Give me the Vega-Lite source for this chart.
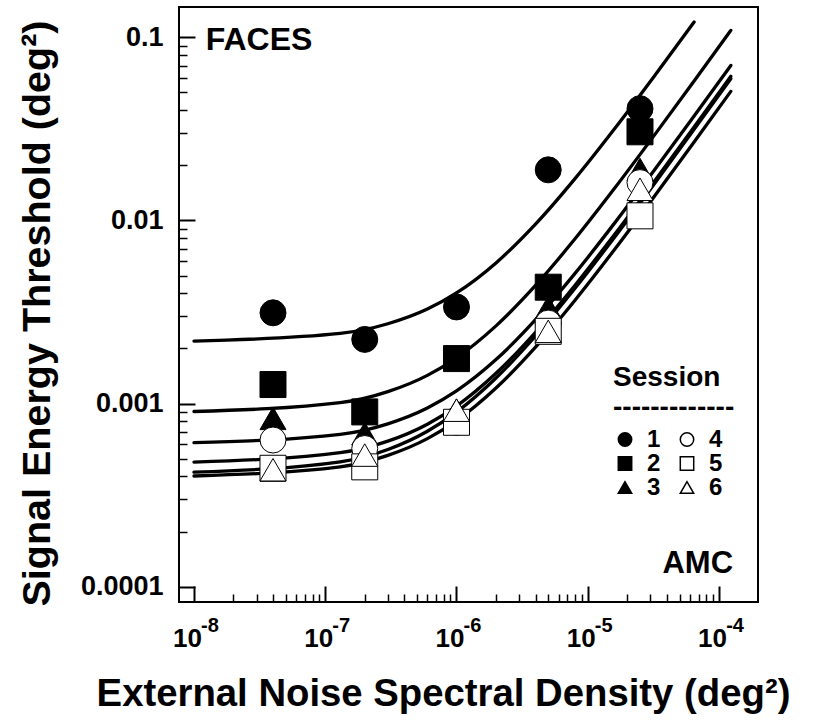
{
  "$schema": "https://vega.github.io/schema/vega-lite/v6.json",
  "width": 579,
  "height": 595,
  "autosize": "none",
  "padding": {"left": 179, "top": 7, "right": 61, "bottom": 123},
  "background": "white",
  "config": {
    "font": "Liberation Sans",
    "view": {"stroke": "black", "strokeWidth": 2},
    "axis": {"grid": false, "domain": false, "labelFont": "Liberation Sans", "titleFont": "Liberation Sans", "labelColor": "black", "titleColor": "black", "tickColor": "black", "labelFlush": false, "labelOverlap": false},
    "legend": {"rowPadding": 0, "columnPadding": 14, "labelOffset": 10, "symbolOffset": 0}
  },
  "datasets": {
    "curves": [
      {"curve": 1, "x": 1e-8, "y": 0.002194}, {"curve": 1, "x": 1.3e-7, "y": 0.002416}, {"curve": 1, "x": 3e-7, "y": 0.002729}, {"curve": 1, "x": 6e-7, "y": 0.003282}, {"curve": 1, "x": 1e-6, "y": 0.00402}, {"curve": 1, "x": 2e-6, "y": 0.005864}, {"curve": 1, "x": 4e-6, "y": 0.009552}, {"curve": 1, "x": 8e-6, "y": 0.016928}, {"curve": 1, "x": 1.6e-5, "y": 0.03168}, {"curve": 1, "x": 3.2e-5, "y": 0.061184}, {"curve": 1, "x": 6.46e-5, "y": 0.121298},
      {"curve": 2, "x": 1e-8, "y": 0.000905}, {"curve": 2, "x": 1.3e-7, "y": 0.001011}, {"curve": 2, "x": 3e-7, "y": 0.001161}, {"curve": 2, "x": 6e-7, "y": 0.001425}, {"curve": 2, "x": 1e-6, "y": 0.001777}, {"curve": 2, "x": 2e-6, "y": 0.002657}, {"curve": 2, "x": 4e-6, "y": 0.004418}, {"curve": 2, "x": 8e-6, "y": 0.00794}, {"curve": 2, "x": 1.6e-5, "y": 0.014984}, {"curve": 2, "x": 3.2e-5, "y": 0.029072}, {"curve": 2, "x": 6.4e-5, "y": 0.057248}, {"curve": 2, "x": 1.23e-4, "y": 0.109198},
      {"curve": 3, "x": 1e-8, "y": 0.000611}, {"curve": 3, "x": 1.3e-7, "y": 0.000679}, {"curve": 3, "x": 3e-7, "y": 0.000775}, {"curve": 3, "x": 6e-7, "y": 0.000945}, {"curve": 3, "x": 1e-6, "y": 0.001172}, {"curve": 3, "x": 2e-6, "y": 0.001738}, {"curve": 3, "x": 4e-6, "y": 0.002872}, {"curve": 3, "x": 8e-6, "y": 0.005138}, {"curve": 3, "x": 1.6e-5, "y": 0.009671}, {"curve": 3, "x": 3.2e-5, "y": 0.018736}, {"curve": 3, "x": 6.4e-5, "y": 0.036868}, {"curve": 3, "x": 1.23e-4, "y": 0.070297},
      {"curve": 4, "x": 1e-8, "y": 0.000479}, {"curve": 4, "x": 1.3e-7, "y": 0.000539}, {"curve": 4, "x": 3e-7, "y": 0.000623}, {"curve": 4, "x": 6e-7, "y": 0.000771}, {"curve": 4, "x": 1e-6, "y": 0.000969}, {"curve": 4, "x": 2e-6, "y": 0.001463}, {"curve": 4, "x": 4e-6, "y": 0.002452}, {"curve": 4, "x": 8e-6, "y": 0.00443}, {"curve": 4, "x": 1.6e-5, "y": 0.008386}, {"curve": 4, "x": 3.2e-5, "y": 0.016298}, {"curve": 4, "x": 6.4e-5, "y": 0.032122}, {"curve": 4, "x": 1.23e-4, "y": 0.061298},
      {"curve": 5, "x": 1e-8, "y": 0.000422}, {"curve": 5, "x": 1.3e-7, "y": 0.00048}, {"curve": 5, "x": 3e-7, "y": 0.000561}, {"curve": 5, "x": 6e-7, "y": 0.000706}, {"curve": 5, "x": 1e-6, "y": 0.000898}, {"curve": 5, "x": 2e-6, "y": 0.001378}, {"curve": 5, "x": 4e-6, "y": 0.002339}, {"curve": 5, "x": 8e-6, "y": 0.00426}, {"curve": 5, "x": 1.6e-5, "y": 0.008102}, {"curve": 5, "x": 3.2e-5, "y": 0.015787}, {"curve": 5, "x": 6.4e-5, "y": 0.031157}, {"curve": 5, "x": 1.23e-4, "y": 0.059494},
      {"curve": 6, "x": 1e-8, "y": 0.000402}, {"curve": 6, "x": 1.3e-7, "y": 0.000451}, {"curve": 6, "x": 3e-7, "y": 0.000521}, {"curve": 6, "x": 6e-7, "y": 0.000643}, {"curve": 6, "x": 1e-6, "y": 0.000807}, {"curve": 6, "x": 2e-6, "y": 0.001216}, {"curve": 6, "x": 4e-6, "y": 0.002034}, {"curve": 6, "x": 8e-6, "y": 0.00367}, {"curve": 6, "x": 1.6e-5, "y": 0.006942}, {"curve": 6, "x": 3.2e-5, "y": 0.013486}, {"curve": 6, "x": 6.4e-5, "y": 0.026574}, {"curve": 6, "x": 1.23e-4, "y": 0.050705}
    ],
    "points": [
      {"session": "1", "x": 4e-8, "y": 0.00313}, {"session": "1", "x": 2e-7, "y": 0.00224}, {"session": "1", "x": 1e-6, "y": 0.00337}, {"session": "1", "x": 5e-6, "y": 0.0189}, {"session": "1", "x": 2.5e-5, "y": 0.0408},
      {"session": "2", "x": 4e-8, "y": 0.00127}, {"session": "2", "x": 2e-7, "y": 0.0009}, {"session": "2", "x": 1e-6, "y": 0.00176}, {"session": "2", "x": 5e-6, "y": 0.00432}, {"session": "2", "x": 2.5e-5, "y": 0.0305},
      {"session": "3", "x": 4e-8, "y": 0.00083}, {"session": "3", "x": 2e-7, "y": 0.000685}, {"session": "3", "x": 1e-6, "y": 0.00092}, {"session": "3", "x": 5e-6, "y": 0.00335}, {"session": "3", "x": 2.5e-5, "y": 0.019},
      {"session": "4", "x": 4e-8, "y": 0.000632}, {"session": "4", "x": 2e-7, "y": 0.000568}, {"session": "4", "x": 1e-6, "y": 0.00079}, {"session": "4", "x": 5e-6, "y": 0.00275}, {"session": "4", "x": 2.5e-5, "y": 0.0161},
      {"session": "5", "x": 4e-8, "y": 0.000443}, {"session": "5", "x": 2e-7, "y": 0.000451}, {"session": "5", "x": 1e-6, "y": 0.00079}, {"session": "5", "x": 5e-6, "y": 0.00248}, {"session": "5", "x": 2.5e-5, "y": 0.0106},
      {"session": "6", "x": 4e-8, "y": 0.000435}, {"session": "6", "x": 2e-7, "y": 0.000523}, {"session": "6", "x": 1e-6, "y": 0.00092}, {"session": "6", "x": 5e-6, "y": 0.00248}, {"session": "6", "x": 2.5e-5, "y": 0.0148}
    ]
  },
  "resolve": {"axis": {"x": "independent", "y": "independent"}},
  "layer": [
    {
      "data": {"name": "curves"},
      "mark": {"type": "line", "color": "black", "strokeWidth": 3.3, "interpolate": "monotone", "strokeCap": "round"},
      "encoding": {
        "x": {"field": "x", "type": "quantitative", "scale": {"type": "log", "domain": [7.691e-9, 1.9815e-4], "nice": false},
          "axis": {"orient": "bottom", "values": [2e-8, 3e-8, 4e-8, 5e-8, 6e-8, 7e-8, 8e-8, 9e-8, 2e-7, 3e-7, 4e-7, 5e-7, 6e-7, 7e-7, 8e-7, 9e-7, 2e-6, 3e-6, 4e-6, 5e-6, 6e-6, 7e-6, 8e-6, 9e-6, 2e-5, 3e-5, 4e-5, 5e-5, 6e-5, 7e-5, 8e-5, 9e-5], "tickSize": -8, "tickWidth": 1.5, "labels": false, "title": null}},
        "y": {"field": "y", "type": "quantitative", "scale": {"type": "log", "domain": [8.241e-5, 0.14655], "nice": false},
          "axis": {"orient": "left", "values": [0.0002, 0.0003, 0.0004, 0.0005, 0.0006, 0.0007, 0.0008, 0.0009, 0.002, 0.003, 0.004, 0.005, 0.006, 0.007, 0.008, 0.009, 0.02, 0.03, 0.04, 0.05, 0.06, 0.07, 0.08, 0.09], "tickSize": -8, "tickWidth": 1.5, "labels": false, "title": null}},
        "detail": {"field": "curve", "type": "nominal"}
      }
    },
    {
      "data": {"name": "points"},
      "mark": {"type": "point", "filled": true, "size": 676, "stroke": "black", "strokeWidth": 1, "opacity": 1},
      "encoding": {
        "x": {"field": "x", "type": "quantitative", "scale": {"type": "log", "domain": [7.691e-9, 1.9815e-4], "nice": false},
          "axis": {"orient": "bottom", "values": [1e-8, 1e-7, 1e-6, 1e-5, 1e-4], "labelExpr": "'10'", "tickSize": -16, "tickWidth": 2, "labelPadding": 60, "labelBaseline": "alphabetic", "labelOffset": -7, "labelFontSize": 26, "labelFontWeight": "bold",
            "title": "External Noise Spectral Density (deg²)", "titleFontSize": 38.3, "titleFontWeight": "bold", "titleX": 264, "titleY": 103, "titleBaseline": "alphabetic", "titleAlign": "center"}},
        "y": {"field": "y", "type": "quantitative", "scale": {"type": "log", "domain": [8.241e-5, 0.14655], "nice": false},
          "axis": {"orient": "left", "values": [0.0001, 0.001, 0.01, 0.1], "format": "~g", "tickSize": -16, "tickWidth": 2, "labelPadding": 32, "labelFontSize": 27, "labelFontWeight": "bold",
            "title": "Signal Energy Threshold (deg²)", "titleFontSize": 39.5, "titleFontWeight": "bold", "titleX": -130, "titleY": 306, "titleAngle": -90, "titleBaseline": "alphabetic", "titleAlign": "center"}},
        "shape": {"field": "session", "type": "nominal",
          "scale": {"domain": ["1", "2", "3", "4", "5", "6"], "range": ["circle", "square", "triangle-up", "circle", "square", "triangle-up"]},
          "legend": {"title": ["Session", "-------------"], "orient": "none", "legendX": 434, "legendY": 357, "columns": 2, "symbolSize": 180, "labelFontSize": 24, "labelFontWeight": "bold", "labelFont": "Liberation Sans", "labelColor": "black", "titleFont": "Liberation Sans", "titleColor": "black", "titleFontSize": 28, "titleFontWeight": "bold", "titleLineHeight": 29.5, "titlePadding": 6, "rowPadding": 0, "columnPadding": 14, "labelOffset": 10, "padding": 0,
            "encode": {"symbols": {"update": {"stroke": {"value": "black"}, "strokeWidth": {"value": 1}}}}}},
        "fill": {"field": "session", "type": "nominal",
          "scale": {"domain": ["1", "2", "3", "4", "5", "6"], "range": ["black", "black", "black", "white", "white", "white"]},
          "legend": {"title": ["Session", "-------------"], "orient": "none", "legendX": 434, "legendY": 357, "columns": 2, "symbolSize": 180, "labelFontSize": 24, "labelFontWeight": "bold", "labelFont": "Liberation Sans", "labelColor": "black", "titleFont": "Liberation Sans", "titleColor": "black", "titleFontSize": 28, "titleFontWeight": "bold", "titleLineHeight": 29.5, "titlePadding": 6, "rowPadding": 0, "columnPadding": 14, "labelOffset": 10, "padding": 0,
            "encode": {"symbols": {"update": {"stroke": {"value": "black"}, "strokeWidth": {"value": 1}}}}}}
      }
    },
    {
      "data": {"name": "curves"},
      "mark": {"type": "line", "strokeOpacity": 0},
      "encoding": {
        "x": {"field": "x", "type": "quantitative", "scale": {"type": "log", "domain": [7.691e-9, 1.9815e-4], "nice": false},
          "axis": {"orient": "bottom", "values": [1e-8, 1e-7, 1e-6, 1e-5, 1e-4], "labelExpr": "'-' + round(-log(datum.value) / LN10)", "ticks": false, "labelPadding": 29.6, "labelBaseline": "alphabetic", "labelOffset": 15.5, "labelFontSize": 20, "labelFontWeight": "bold", "title": null}},
        "y": {"field": "y", "type": "quantitative", "scale": {"type": "log", "domain": [8.241e-5, 0.14655], "nice": false}, "axis": null},
        "detail": {"field": "curve", "type": "nominal"}
      }
    },
    {
      "data": {"values": [{"x": 1.228e-8, "y": 0.0857, "label": "FACES"}]},
      "mark": {"type": "text", "align": "left", "baseline": "alphabetic", "fontSize": 32, "fontWeight": "bold", "font": "Liberation Sans", "color": "black"},
      "encoding": {
        "x": {"field": "x", "type": "quantitative", "scale": {"type": "log", "domain": [7.691e-9, 1.9815e-4], "nice": false}, "axis": null},
        "y": {"field": "y", "type": "quantitative", "scale": {"type": "log", "domain": [8.241e-5, 0.14655], "nice": false}, "axis": null},
        "text": {"field": "label"}
      }
    },
    {
      "data": {"values": [{"x": 1.28e-4, "y": 1.183e-4, "label": "AMC"}]},
      "mark": {"type": "text", "align": "right", "baseline": "alphabetic", "fontSize": 31, "fontWeight": "bold", "font": "Liberation Sans", "color": "black"},
      "encoding": {
        "x": {"field": "x", "type": "quantitative", "scale": {"type": "log", "domain": [7.691e-9, 1.9815e-4], "nice": false}, "axis": null},
        "y": {"field": "y", "type": "quantitative", "scale": {"type": "log", "domain": [8.241e-5, 0.14655], "nice": false}, "axis": null},
        "text": {"field": "label"}
      }
    }
  ]
}
